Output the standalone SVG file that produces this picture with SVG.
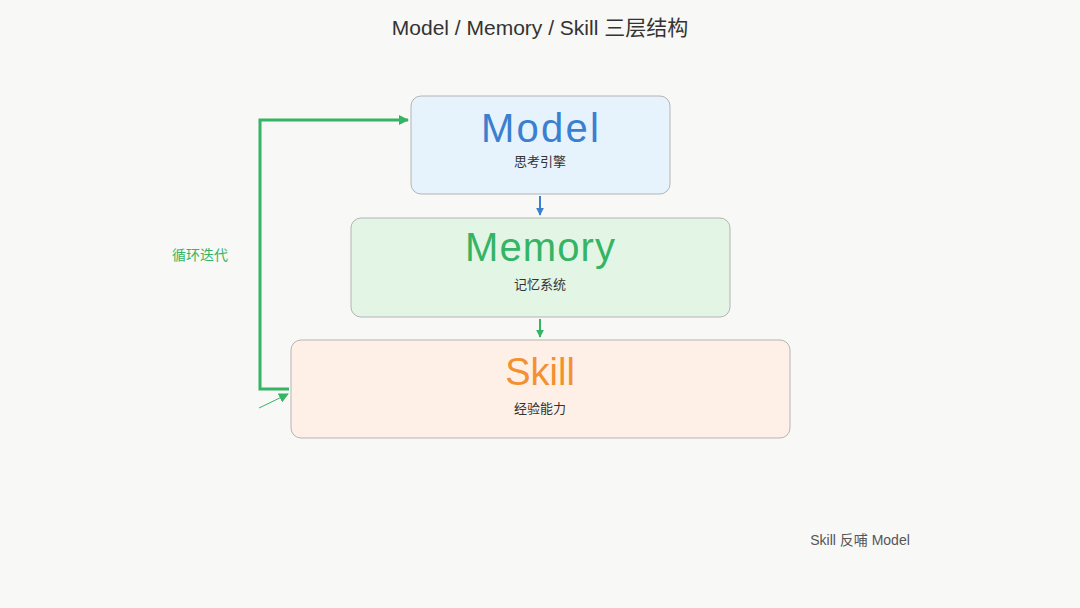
<svg xmlns="http://www.w3.org/2000/svg" width="1080" height="608" viewBox="0 0 1080 608">
<defs>
<style>
.t{font-family:"Liberation Sans","Noto Sans CJK SC",sans-serif;}
.box{stroke:#b4b4b4;stroke-width:1;}
.big{font-size:40px;text-anchor:middle;}
.sub{font-size:13px;fill:#333;text-anchor:middle;}
</style>
<marker id="ab" viewBox="0 0 10 10" refX="9" refY="5" markerWidth="4" markerHeight="4" orient="auto" markerUnits="strokeWidth"><path d="M0,0 L10,5 L0,10 z" fill="#3a7fd0"/></marker>
<marker id="ag" viewBox="0 0 10 10" refX="9" refY="5" markerWidth="4" markerHeight="4" orient="auto" markerUnits="strokeWidth"><path d="M0,0 L10,5 L0,10 z" fill="#35b465"/></marker>
<marker id="ag2" viewBox="0 0 10 10" refX="9" refY="5" markerWidth="10" markerHeight="10" orient="auto" markerUnits="userSpaceOnUse"><path d="M0,0 L10,5 L0,10 z" fill="#35b465"/></marker>
</defs>
<rect width="1080" height="608" fill="#f8f8f6"/>
<text class="t" x="540" y="35" font-size="21" fill="#333" text-anchor="middle">Model / Memory / Skill 三层结构</text>
<g id="model">
<rect class="box" x="411" y="96" width="259" height="98" rx="10" fill="#e6f2fc"/>
<text class="t big" x="540" y="142" fill="#3a7fd0" textLength="118">Model</text>
<text class="t sub" x="540" y="166">思考引擎</text>
</g>
<g id="memory">
<rect class="box" x="351" y="218" width="379" height="99" rx="10" fill="#e3f6e6"/>
<text class="t big" x="540" y="261" fill="#35b465" textLength="150">Memory</text>
<text class="t sub" x="540" y="289">记忆系统</text>
</g>
<g id="skill">
<rect class="box" x="291" y="340" width="499" height="98" rx="10" fill="#fef0e6"/>
<text class="t" x="540" y="385" font-size="38" fill="#f39131" text-anchor="middle">Skill</text>
<text class="t sub" x="540" y="413">经验能力</text>
</g>
<g id="connectors" fill="none">
<line x1="540" y1="196" x2="540" y2="215" stroke="#3a7fd0" stroke-width="2" marker-end="url(#ab)"/>
<line x1="540" y1="319" x2="540" y2="337" stroke="#35b465" stroke-width="2" marker-end="url(#ag)"/>
<path d="M289,389 H260 V120 H408" stroke="#35b465" stroke-width="3" marker-end="url(#ag2)"/>
<line x1="259" y1="408" x2="288" y2="394" stroke="#35b465" stroke-width="1" marker-end="url(#ag2)"/>
</g>
<text class="t" x="200" y="260" font-size="14" fill="#35b465" text-anchor="middle">循环迭代</text>
<text class="t" x="860" y="545" font-size="14" fill="#555" text-anchor="middle">Skill 反哺 Model</text>
</svg>
